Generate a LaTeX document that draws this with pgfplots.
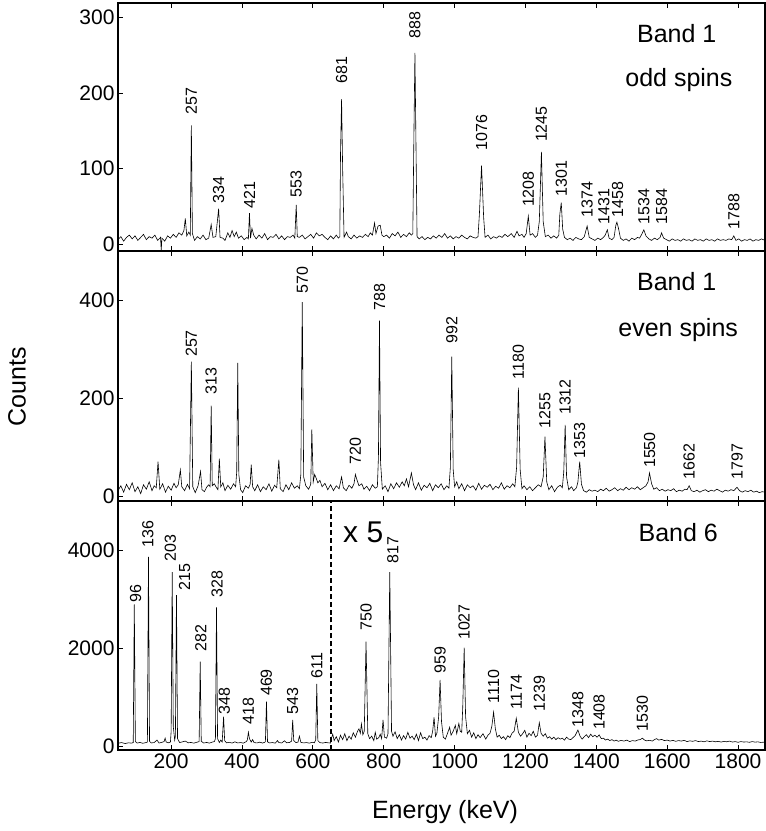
\documentclass[border=0pt]{standalone}
\usepackage{fontspec}
\setmainfont{Liberation Sans}
\usepackage{pgfplots}
\pgfplotsset{compat=1.18}
\newcommand{\tickfont}{\fontsize{21bp}{21bp}\selectfont}
\newcommand{\pkfont}{\fontsize{16bp}{16bp}\selectfont}
\newcommand{\bigfont}{\fontsize{25bp}{25bp}\selectfont}
\pgfplotsset{
  spec/.style={
    scale only axis, width=647bp, xmin=50, xmax=1876,
    axis line style={line width=1.1pt},
    tick align=inside, xtick pos=both, ytick pos=left,
    xtick={200,400,...,1800},
    major tick length=5bp,
    every tick/.style={black, line width=0.9pt},
    tick label style={font=\tickfont},
    /pgf/number format/assume math mode=true,
    /pgf/number format/1000 sep={},
    clip=false,
  },
}
\tikzset{pk/.style={rotate=90, anchor=west, inner sep=0pt, font=\pkfont}}
\newcommand{\pk}[3]{\node[pk] at (axis cs:#1,#2) {#3};}
\begin{document}
\begin{tikzpicture}
\path[use as bounding box] (0bp,0bp) rectangle (766bp,831bp);
% ---------------- Panel 1 ----------------
\begin{axis}[spec, at={(118bp,580bp)}, anchor=south west, height=248bp,
  ymin=-9, ymax=319, ytick={0,100,200,300}, xticklabels={}]
\addplot[black, line width=0.6pt] table[row sep=\\] {
x y\\
50 6\\ 58 10\\ 66 4\\ 74 9\\ 82 12\\ 90 7\\ 98 11\\ 106 5\\ 114 9\\ 122 13\\ 130 6\\ 138 10\\ 146 8\\ 154 12\\ 162 5\\ 170 9\\ 172 -8\\ 174 8\\ 182 4\\ 190 11\\ 198 8\\ 206 13\\ 214 9\\ 222 15\\ 230 12\\ 236 18\\ 240 34\\ 244 11\\ 250 16\\ 254 12\\ 257 157\\ 260 14\\ 266 5\\ 274 10\\ 282 7\\ 290 12\\ 298 6\\ 306 8\\ 313 26\\ 318 9\\ 326 10\\ 334 47\\ 338 9\\ 346 8\\ 352 5\\ 360 15\\ 366 9\\ 372 18\\ 378 10\\ 384 16\\ 390 8\\ 398 11\\ 406 6\\ 414 9\\ 418 7\\ 421 41\\ 424 8\\ 428 21\\ 433 12\\ 440 7\\ 448 12\\ 456 8\\ 464 14\\ 472 6\\ 480 10\\ 488 9\\ 496 13\\ 504 7\\ 512 11\\ 520 6\\ 528 10\\ 536 9\\ 544 12\\ 549 8\\ 553 52\\ 556 10\\ 562 9\\ 570 12\\ 578 7\\ 586 10\\ 594 13\\ 602 8\\ 610 15\\ 618 11\\ 626 13\\ 634 9\\ 642 6\\ 650 11\\ 658 7\\ 666 12\\ 672 8\\ 676 10\\ 678 120\\ 681 192\\ 684 100\\ 688 9\\ 695 16\\ 700 10\\ 708 7\\ 716 12\\ 724 8\\ 732 11\\ 740 9\\ 748 13\\ 756 10\\ 762 15\\ 768 12\\ 774 28\\ 778 14\\ 784 24\\ 790 25\\ 795 12\\ 800 10\\ 808 12\\ 816 8\\ 824 14\\ 832 11\\ 840 16\\ 848 9\\ 856 13\\ 864 10\\ 872 15\\ 878 12\\ 882 14\\ 885 140\\ 888 253\\ 891 130\\ 894 10\\ 900 7\\ 908 10\\ 916 6\\ 924 9\\ 932 7\\ 940 11\\ 948 8\\ 956 12\\ 964 9\\ 972 14\\ 980 8\\ 988 11\\ 996 7\\ 1004 10\\ 1012 8\\ 1020 12\\ 1028 9\\ 1036 7\\ 1044 11\\ 1052 9\\ 1060 8\\ 1066 10\\ 1070 40\\ 1076 104\\ 1082 35\\ 1086 9\\ 1094 12\\ 1102 7\\ 1110 10\\ 1118 8\\ 1126 11\\ 1134 9\\ 1142 13\\ 1150 10\\ 1160 14\\ 1168 9\\ 1176 17\\ 1182 11\\ 1190 13\\ 1196 9\\ 1202 14\\ 1208 37\\ 1213 12\\ 1220 14\\ 1228 9\\ 1234 12\\ 1239 30\\ 1245 122\\ 1250 30\\ 1256 10\\ 1264 12\\ 1272 8\\ 1280 11\\ 1288 8\\ 1294 12\\ 1297 40\\ 1301 55\\ 1305 20\\ 1310 9\\ 1318 6\\ 1326 8\\ 1334 5\\ 1342 9\\ 1350 7\\ 1358 6\\ 1366 10\\ 1374 24\\ 1380 9\\ 1388 7\\ 1396 5\\ 1404 8\\ 1412 6\\ 1420 9\\ 1425 12\\ 1431 19\\ 1436 8\\ 1444 6\\ 1450 9\\ 1455 25\\ 1458 29\\ 1462 22\\ 1468 8\\ 1476 5\\ 1484 7\\ 1492 4\\ 1500 8\\ 1508 6\\ 1516 9\\ 1522 8\\ 1528 13\\ 1534 19\\ 1540 11\\ 1548 7\\ 1556 5\\ 1564 8\\ 1572 6\\ 1580 9\\ 1584 15\\ 1590 8\\ 1598 6\\ 1606 4\\ 1614 7\\ 1622 5\\ 1630 6\\ 1638 4\\ 1646 7\\ 1654 5\\ 1662 6\\ 1670 4\\ 1678 7\\ 1686 5\\ 1694 6\\ 1702 4\\ 1710 7\\ 1718 5\\ 1726 6\\ 1734 4\\ 1742 7\\ 1750 5\\ 1758 6\\ 1766 5\\ 1774 7\\ 1782 6\\ 1788 11\\ 1794 5\\ 1802 7\\ 1810 4\\ 1818 6\\ 1826 5\\ 1834 7\\ 1842 4\\ 1850 6\\ 1858 5\\ 1866 7\\ 1876 5\\
};
\pk{257}{171}{257} \pk{334}{54}{334} \pk{421}{47}{421} \pk{553}{62}{553}
\pk{681}{212}{681} \pk{888}{272}{888} \pk{1076}{124}{1076} \pk{1208}{49}{1208}
\pk{1245}{135}{1245} \pk{1301}{63}{1301} \pk{1374}{35}{1374} \pk{1421}{26}{1431}
\pk{1460}{35}{1458} \pk{1534}{26}{1534} \pk{1584}{26}{1584} \pk{1788}{19}{1788}
\node[font=\bigfont] at (axis cs:1627,279) {Band 1};
\node[font=\bigfont] at (axis cs:1633,217) {odd spins};
\end{axis}
% ---------------- Panel 2 ----------------
\begin{axis}[spec, at={(118bp,330bp)}, anchor=south west, height=250bp,
  ymin=-9, ymax=500, ytick={0,200,400}, xticklabels={}]
\addplot[black, line width=0.6pt] table[row sep=\\] {
x y\\
50 12\\ 58 22\\ 66 9\\ 74 25\\ 82 14\\ 90 28\\ 98 10\\ 106 20\\ 114 6\\ 122 24\\ 130 15\\ 138 30\\ 146 12\\ 152 22\\ 158 18\\ 163 71\\ 168 15\\ 176 26\\ 184 9\\ 192 21\\ 200 13\\ 208 27\\ 214 18\\ 220 24\\ 226 54\\ 230 20\\ 238 12\\ 246 25\\ 252 16\\ 257 275\\ 261 20\\ 268 8\\ 276 22\\ 283 51\\ 287 14\\ 294 10\\ 300 19\\ 306 24\\ 310 20\\ 313 185\\ 316 22\\ 322 26\\ 328 18\\ 332 14\\ 336 77\\ 340 20\\ 346 28\\ 352 12\\ 360 23\\ 368 15\\ 376 26\\ 382 20\\ 385 50\\ 388 272\\ 391 45\\ 396 14\\ 402 8\\ 410 22\\ 418 17\\ 423 25\\ 426 65\\ 430 20\\ 436 12\\ 444 24\\ 452 10\\ 460 20\\ 468 14\\ 476 26\\ 484 11\\ 492 23\\ 498 18\\ 504 75\\ 508 16\\ 516 10\\ 524 24\\ 532 14\\ 540 28\\ 548 17\\ 556 22\\ 562 16\\ 566 45\\ 570 396\\ 574 40\\ 580 22\\ 588 15\\ 594 25\\ 597 137\\ 601 30\\ 605 45\\ 609 38\\ 614 28\\ 620 33\\ 626 20\\ 634 27\\ 642 14\\ 650 24\\ 658 12\\ 666 22\\ 674 16\\ 681 40\\ 686 18\\ 694 12\\ 702 23\\ 710 17\\ 716 26\\ 720 45\\ 724 35\\ 730 22\\ 738 26\\ 744 15\\ 752 21\\ 760 12\\ 768 24\\ 776 17\\ 782 20\\ 785 80\\ 788 358\\ 791 70\\ 796 15\\ 804 22\\ 812 10\\ 820 26\\ 828 16\\ 836 28\\ 844 19\\ 852 30\\ 858 22\\ 864 36\\ 870 20\\ 878 48\\ 884 24\\ 890 14\\ 898 28\\ 906 13\\ 914 23\\ 922 18\\ 930 27\\ 938 12\\ 946 24\\ 954 18\\ 962 26\\ 970 14\\ 978 22\\ 984 17\\ 988 60\\ 992 285\\ 996 55\\ 1000 20\\ 1006 30\\ 1012 16\\ 1020 26\\ 1028 12\\ 1036 24\\ 1044 18\\ 1052 22\\ 1060 13\\ 1068 27\\ 1076 15\\ 1084 23\\ 1092 19\\ 1100 25\\ 1108 14\\ 1116 21\\ 1124 17\\ 1132 28\\ 1140 15\\ 1148 22\\ 1156 18\\ 1164 26\\ 1170 20\\ 1175 60\\ 1180 222\\ 1185 55\\ 1190 16\\ 1196 22\\ 1204 14\\ 1212 20\\ 1220 12\\ 1228 18\\ 1236 24\\ 1244 20\\ 1250 40\\ 1255 122\\ 1260 30\\ 1266 14\\ 1274 22\\ 1282 10\\ 1290 19\\ 1298 23\\ 1304 18\\ 1308 50\\ 1312 146\\ 1316 40\\ 1322 14\\ 1330 20\\ 1336 12\\ 1344 18\\ 1348 30\\ 1353 71\\ 1358 25\\ 1364 12\\ 1372 9\\ 1380 14\\ 1388 11\\ 1396 13\\ 1404 10\\ 1412 15\\ 1420 12\\ 1428 17\\ 1436 11\\ 1444 14\\ 1452 18\\ 1460 12\\ 1468 16\\ 1476 13\\ 1484 19\\ 1492 14\\ 1500 18\\ 1508 15\\ 1516 20\\ 1524 14\\ 1532 18\\ 1540 22\\ 1546 30\\ 1550 48\\ 1556 26\\ 1562 15\\ 1570 18\\ 1578 12\\ 1586 15\\ 1594 11\\ 1602 14\\ 1610 12\\ 1618 16\\ 1626 10\\ 1634 13\\ 1642 11\\ 1650 15\\ 1656 14\\ 1662 22\\ 1668 12\\ 1676 10\\ 1684 13\\ 1692 9\\ 1700 12\\ 1708 14\\ 1716 10\\ 1724 13\\ 1732 11\\ 1740 15\\ 1748 12\\ 1756 9\\ 1764 13\\ 1772 11\\ 1780 14\\ 1788 12\\ 1797 19\\ 1804 12\\ 1812 9\\ 1820 12\\ 1828 10\\ 1836 13\\ 1844 9\\ 1852 11\\ 1860 8\\ 1868 10\\ 1876 9\\
};
\pk{257}{284}{257} \pk{313}{207}{313} \pk{570}{413}{570} \pk{720}{65}{720}
\pk{788}{378}{788} \pk{992}{311}{992} \pk{1180}{238}{1180} \pk{1255}{138}{1255}
\pk{1312}{166}{1312} \pk{1353}{78}{1353} \pk{1550}{58}{1550} \pk{1662}{35}{1662}
\pk{1797}{35}{1797}
\node[font=\bigfont] at (axis cs:1627,438) {Band 1};
\node[font=\bigfont] at (axis cs:1631,340) {even spins};
\end{axis}
% ---------------- Panel 3 ----------------
\begin{axis}[spec, at={(118bp,81bp)}, anchor=south west, height=249bp,
  ymin=-82, ymax=5000, ytick={0,2000,4000}]
\addplot[black, line width=0.6pt] table[row sep=\\] {
x y\\
50 55\\ 60 70\\ 70 50\\ 80 65\\ 88 58\\ 93 70\\ 96 2890\\ 99 90\\ 104 60\\ 112 72\\ 120 55\\ 128 68\\ 133 80\\ 136 3860\\ 139 95\\ 144 62\\ 152 70\\ 160 120\\ 166 60\\ 174 75\\ 180 90\\ 183 160\\ 186 80\\ 192 65\\ 198 80\\ 200 300\\ 203 3550\\ 206 400\\ 210 120\\ 212 200\\ 215 3080\\ 218 150\\ 224 70\\ 232 85\\ 240 100\\ 248 65\\ 256 72\\ 264 58\\ 272 75\\ 279 90\\ 282 1720\\ 285 95\\ 292 60\\ 300 72\\ 308 58\\ 316 80\\ 322 90\\ 325 150\\ 328 2830\\ 331 150\\ 336 70\\ 340 120\\ 344 80\\ 348 600\\ 351 110\\ 356 65\\ 364 75\\ 372 60\\ 380 85\\ 388 62\\ 396 70\\ 404 58\\ 412 90\\ 415 120\\ 418 280\\ 421 150\\ 426 80\\ 430 130\\ 434 70\\ 442 62\\ 450 78\\ 458 60\\ 464 75\\ 466 90\\ 469 905\\ 472 85\\ 478 62\\ 486 70\\ 494 58\\ 500 110\\ 504 70\\ 512 62\\ 520 105\\ 526 65\\ 534 72\\ 540 100\\ 543 530\\ 546 110\\ 552 68\\ 558 80\\ 562 200\\ 566 75\\ 574 62\\ 582 70\\ 590 58\\ 598 75\\ 604 66\\ 608 120\\ 611 1265\\ 614 110\\ 620 68\\ 628 60\\ 636 72\\ 644 64\\ 650 60\\ 652 150\\ 656 240\\ 660 110\\ 666 190\\ 672 80\\ 678 220\\ 684 130\\ 690 250\\ 696 110\\ 702 200\\ 708 140\\ 714 270\\ 720 180\\ 726 300\\ 730 350\\ 734 260\\ 737 450\\ 741 230\\ 745 300\\ 750 2130\\ 755 250\\ 760 150\\ 766 200\\ 772 110\\ 776 280\\ 780 140\\ 786 170\\ 790 240\\ 794 150\\ 798 530\\ 802 180\\ 808 160\\ 812 250\\ 817 3550\\ 822 300\\ 826 200\\ 832 290\\ 838 150\\ 844 230\\ 850 120\\ 856 210\\ 862 140\\ 868 280\\ 874 160\\ 880 200\\ 886 130\\ 892 240\\ 898 110\\ 904 270\\ 910 150\\ 916 180\\ 922 120\\ 928 210\\ 934 170\\ 938 300\\ 942 585\\ 946 200\\ 950 260\\ 955 600\\ 959 1350\\ 963 500\\ 968 180\\ 974 140\\ 980 260\\ 986 380\\ 990 220\\ 996 300\\ 1002 420\\ 1006 250\\ 1012 460\\ 1016 300\\ 1020 280\\ 1023 800\\ 1027 2006\\ 1031 600\\ 1036 250\\ 1042 320\\ 1048 180\\ 1054 270\\ 1060 150\\ 1066 230\\ 1072 170\\ 1080 250\\ 1088 140\\ 1094 220\\ 1100 260\\ 1105 400\\ 1110 690\\ 1115 350\\ 1120 180\\ 1126 220\\ 1132 150\\ 1138 190\\ 1144 130\\ 1150 210\\ 1156 170\\ 1162 260\\ 1168 300\\ 1174 565\\ 1180 280\\ 1186 200\\ 1192 250\\ 1198 320\\ 1204 180\\ 1210 260\\ 1216 210\\ 1222 300\\ 1228 180\\ 1234 220\\ 1239 475\\ 1244 260\\ 1250 200\\ 1256 250\\ 1262 160\\ 1268 190\\ 1274 140\\ 1280 180\\ 1286 130\\ 1292 170\\ 1298 140\\ 1304 160\\ 1310 120\\ 1316 180\\ 1322 140\\ 1328 130\\ 1334 170\\ 1340 210\\ 1348 325\\ 1354 200\\ 1360 140\\ 1366 190\\ 1372 230\\ 1378 170\\ 1384 240\\ 1390 190\\ 1396 220\\ 1402 180\\ 1408 225\\ 1414 150\\ 1420 160\\ 1426 120\\ 1432 140\\ 1438 110\\ 1444 130\\ 1450 100\\ 1456 120\\ 1462 95\\ 1470 115\\ 1478 100\\ 1486 120\\ 1494 90\\ 1502 110\\ 1510 100\\ 1518 125\\ 1524 130\\ 1530 160\\ 1536 120\\ 1542 105\\ 1550 115\\ 1558 100\\ 1564 130\\ 1570 150\\ 1576 120\\ 1584 135\\ 1592 110\\ 1600 120\\ 1608 100\\ 1616 115\\ 1624 95\\ 1632 110\\ 1640 100\\ 1648 115\\ 1656 90\\ 1664 105\\ 1672 95\\ 1680 110\\ 1688 90\\ 1696 100\\ 1704 85\\ 1712 105\\ 1720 90\\ 1728 100\\ 1736 85\\ 1744 95\\ 1752 80\\ 1760 95\\ 1768 85\\ 1776 100\\ 1784 80\\ 1792 90\\ 1800 75\\ 1808 90\\ 1816 80\\ 1824 85\\ 1832 75\\ 1840 90\\ 1848 78\\ 1856 85\\ 1864 72\\ 1876 80\\
};
\draw[black, line width=1.3pt, dash pattern=on 5pt off 3pt] (axis cs:651,-82) -- (axis cs:651,5000);
\node[font=\fontsize{30bp}{30bp}\selectfont, anchor=west, inner sep=0pt] at (axis cs:685,4370) {x 5};
\pk{100}{2925}{96} \pk{134}{4055}{136} \pk{198}{3761}{203} \pk{238}{3170}{215}
\pk{284}{1925}{282} \pk{330}{3034}{328} \pk{350}{633}{348} \pk{418}{429}{418}
\pk{469}{1020}{469} \pk{543}{633}{543} \pk{611}{1380}{611} \pk{750}{2353}{750}
\pk{826}{3728}{817} \pk{959}{1470}{959} \pk{1027}{2163}{1027} \pk{1110}{871}{1110}
\pk{1174}{749}{1174} \pk{1239}{700}{1239} \pk{1348}{380}{1348} \pk{1408}{326}{1408}
\pk{1530}{292}{1530}
\node[font=\bigfont] at (axis cs:1631,4353) {Band 6};
\end{axis}
\node[font=\bigfont, rotate=90] at (17bp,444bp) {Counts};
\node[font=\bigfont] at (445bp,19bp) {Energy (keV)};
\end{tikzpicture}
\end{document}
